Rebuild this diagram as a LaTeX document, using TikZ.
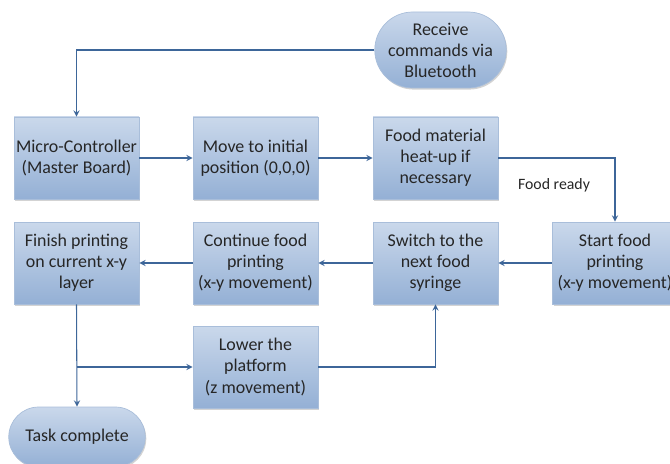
\documentclass[tikz,border=0pt]{standalone}
\usepackage{fontspec}
\setmainfont{Carlito}
\usetikzlibrary{shapes,shapes.misc,arrows,positioning,calc,shadows}

\definecolor{boxtop}{HTML}{CAD8EB}
\definecolor{boxbottom}{HTML}{94B0D5}
\definecolor{boxedge}{HTML}{A9BEDA}
\definecolor{linkblue}{HTML}{3D6699}
\definecolor{textgray}{HTML}{262626}

\begin{document}
\begin{tikzpicture}[
    font=\fontsize{10.2}{12}\selectfont,
    box/.style={rectangle, draw=boxedge, line width=0.4pt, top color=boxtop, bottom color=boxbottom, text=textgray,
        drop shadow={shadow xshift=0.6pt, shadow yshift=-0.9pt, opacity=0.35}, minimum width=2.5cm, minimum height=1.64cm, align=center, inner sep=1pt},
    endbox/.style={box, rounded rectangle},
    arrow/.style={->, >=stealth, line width=0.6pt, draw=linkblue},
    lbl/.style={font=\fontsize{9}{11}\selectfont, text=textgray}
]
    \useasboundingbox (0,0) rectangle (13.4,9.26);

    % Start
    \node[endbox, minimum width=2.7cm, minimum height=1.52cm] (receive) at (8.81,8.26) {Receive\\commands via\\Bluetooth};

    % Prima riga
    \node[box] (micro) at (1.53,6.10) {Micro-Controller\\(Master Board)};
    \node[box] (move) at (5.11,6.10) {Move to initial\\position (0,0,0)};
    \node[box] (heat) at (8.71,6.10) {Food material\\heat-up if\\necessary};

    % Seconda riga
    \node[box] (finish) at (1.53,4.0) {Finish printing\\on current x-y\\layer};
    \node[box] (continue) at (5.11,4.0) {Continue food\\printing\\(x-y movement)};
    \node[box] (switch) at (8.71,4.0) {Switch to the\\next food\\syringe};
    \node[box] (startprint) at (12.3,4.0) {Start food\\printing\\(x-y movement)};

    % Terza riga
    \node[box] (lower) at (5.11,1.92) {Lower the\\platform\\(z movement)};
    \node[endbox, minimum width=2.8cm, minimum height=1.2cm] (done) at (1.54,0.52) {Task complete};

    % Etichetta
    \node[lbl] (ready) at (11.08,5.56) {Food ready};

    % Frecce
    \draw[arrow] (receive.west) -| (micro.north);
    \draw[arrow] (micro) -- (move);
    \draw[arrow] (move) -- (heat);
    \draw[arrow] (heat.east) -| (startprint.north);

    \draw[arrow] (startprint) -- (switch);
    \draw[arrow] (switch) -- (continue);
    \draw[arrow] (continue) -- (finish);

    \coordinate (split) at (finish.south |- lower.west);
    \draw[arrow] (finish.south) -- (done.north);
    \draw[arrow] (split) -- (lower.west);
    \draw[arrow] (lower.east) -| (switch.south);
\end{tikzpicture}
\end{document}
